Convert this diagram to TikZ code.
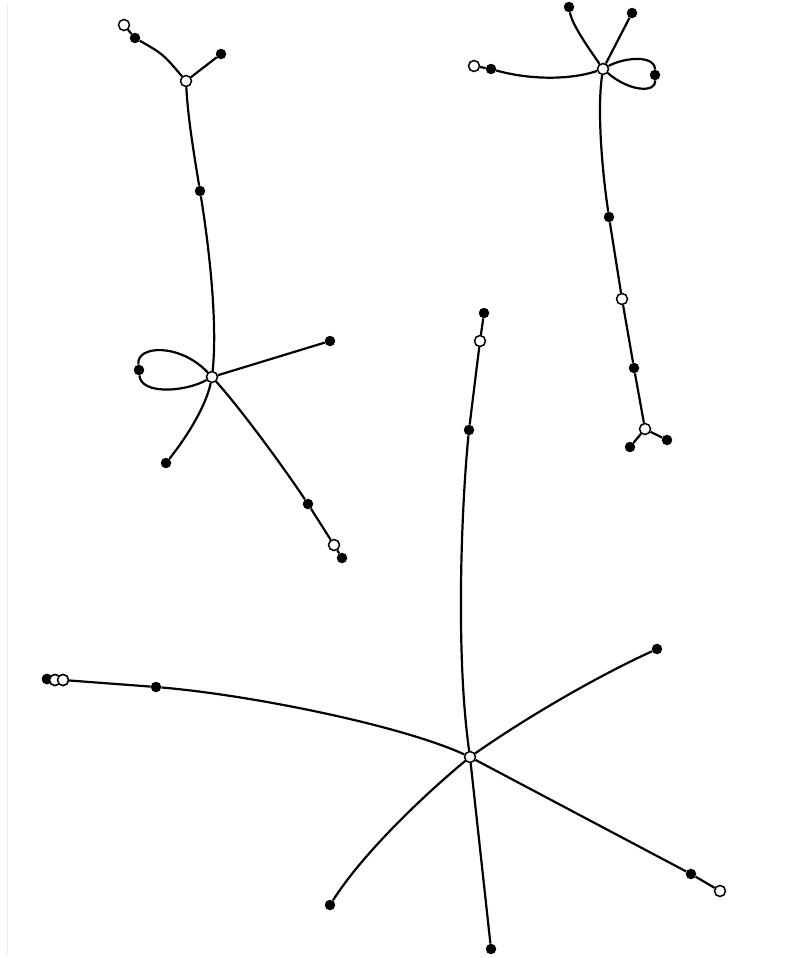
\documentclass[tikz,border=0pt]{standalone}
\begin{document}
\begin{tikzpicture}[x=1pt,y=-1pt,
  wn/.style={circle,draw=black,fill=white,inner sep=0pt,minimum size=11pt,line width=1.5pt},
  bn/.style={circle,fill=black,inner sep=0pt,minimum size=10.5pt},
  ed/.style={line width=2.2pt,draw=black}]
\useasboundingbox (0,0) rectangle (811,958);
\draw[black!7,line width=1pt] (7,3) -- (7,955);
% Graph A
\node[wn] (w1) at (124,25) {};
\node[bn] (b1) at (135,38) {};
\node[wn] (h1) at (186,81) {};
\node[bn] (b2) at (221,54) {};
\node[bn] (b3) at (200,191) {};
\node[wn] (h2) at (212,377) {};
\node[bn] (bl1) at (139,370) {};
\node[bn] (b4) at (330,341) {};
\node[bn] (b5) at (166,463) {};
\node[bn] (b6) at (308,504) {};
\node[wn] (w2) at (334,545) {};
\node[bn] (b7) at (342,558) {};
% Graph B
\node[wn] (h3) at (603,69) {};
\node[bn] (b8) at (569,7) {};
\node[bn] (b9) at (632,13) {};
\node[bn] (bl2) at (655,75) {};
\node[bn] (b10) at (491,69) {};
\node[wn] (w3) at (474,66) {};
\node[bn] (b11) at (609,217) {};
\node[wn] (w4) at (622,299) {};
\node[bn] (b12) at (634,368) {};
\node[wn] (w5) at (645,429) {};
\node[bn] (b13) at (630,447) {};
\node[bn] (b14) at (667,440) {};
% Graph C
\node[wn] (h4) at (470,757) {};
\node[bn] (b15) at (484,313) {};
\node[wn] (w6) at (480,341) {};
\node[bn] (b16) at (469,430) {};
\node[bn] (b17) at (657,649) {};
\node[bn] (b18) at (691,874) {};
\node[wn] (w7) at (720,891) {};
\node[bn] (b19) at (491,949) {};
\node[bn] (b20) at (330,905) {};
\node[bn] (b21) at (156,687) {};
\node[bn] (b22) at (47,679) {};
\node[wn] (w9) at (55,680) {};
\node[wn] (w8) at (63,680) {};
% edges A
\draw[ed] (w1) -- (b1);
\draw[ed] (b1) .. controls (163,54) .. (h1);
\draw[ed] (b2) -- (h1);
\draw[ed] (h1) .. controls (188,120) and (195,160) .. (b3);
\draw[ed] (b3) .. controls (208,240) and (218,320) .. (h2);
\draw[ed] (h2) .. controls (180,343) and (136,345) .. (bl1);
\draw[ed] (bl1) .. controls (141,395) and (185,392) .. (h2);
\draw[ed] (h2) -- (b4);
\draw[ed] (h2) .. controls (205,410) and (182,443) .. (b5);
\draw[ed] (h2) .. controls (240,408) and (282,465) .. (b6);
\draw[ed] (b6) -- (w2);
\draw[ed] (w2) -- (b7);
% edges B
\draw[ed] (b8) .. controls (572,25) and (590,50) .. (h3);
\draw[ed] (b9) -- (h3);
\draw[ed] (h3) .. controls (625,57) and (655,55) .. (bl2);
\draw[ed] (bl2) .. controls (656,93) and (630,92) .. (h3);
\draw[ed] (h3) .. controls (570,80) and (530,80) .. (b10);
\draw[ed] (b10) -- (w3);
\draw[ed] (h3) .. controls (597,110) and (602,170) .. (b11);
\draw[ed] (b11) -- (w4);
\draw[ed] (w4) -- (b12);
\draw[ed] (b12) -- (w5);
\draw[ed] (w5) -- (b13);
\draw[ed] (w5) -- (b14);
% edges C
\draw[ed] (b15) -- (w6);
\draw[ed] (w6) -- (b16);
\draw[ed] (b16) .. controls (462,500) and (455,650) .. (h4);
\draw[ed] (h4) .. controls (530,715) and (600,675) .. (b17);
\draw[ed] (h4) -- (b18);
\draw[ed] (b18) -- (w7);
\draw[ed] (h4) -- (b19);
\draw[ed] (h4) .. controls (430,790) and (365,850) .. (b20);
\draw[ed] (h4) .. controls (400,725) and (250,695) .. (b21);
\draw[ed] (b21) -- (w8);
\draw[ed] (w8) -- (w9);
\draw[ed] (w9) -- (b22);
% redraw overlapping nodes on top
\node[bn] at (47,679) {};
\node[wn] at (55,680) {};
\node[wn] at (63,680) {};
\end{tikzpicture}
\end{document}
